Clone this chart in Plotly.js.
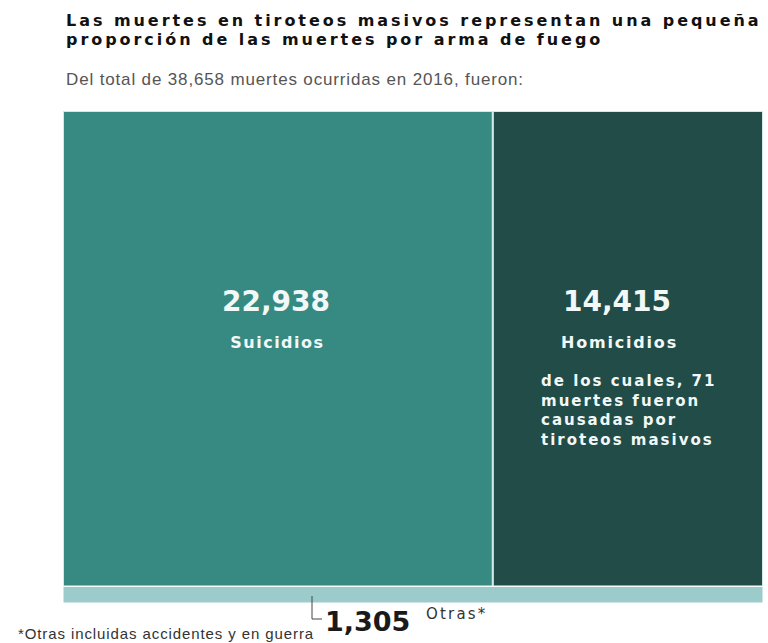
<!DOCTYPE html>
<html>
<head>
<meta charset="utf-8">
<script src="https://cdn.plot.ly/plotly-3.0.1.min.js"></script>
<style>
  html, body { margin: 0; padding: 0; background: #ffffff; }
  #chart { width: 768px; height: 643px; }
  g.annotation[data-index="0"] text, g.annotation[data-index="1"] text { letter-spacing: 2.95px; }
  g.annotation[data-index="2"] text { letter-spacing: 0.85px; }
  g.annotation[data-index="4"] text { letter-spacing: 1.5px; }
  g.annotation[data-index="6"] text { letter-spacing: 1.8px; }
  g.annotation[data-index="7"] text { letter-spacing: 2.0px; }
  g.annotation[data-index="9"] text { letter-spacing: 2.2px; }
  g.annotation[data-index="10"] text { letter-spacing: 0.9px; }
</style>
</head>
<body>
<div id="chart"></div>
<script>
// ---- data ----
const categories = ['Suicidios', 'Homicidios', 'Otras'];
const values = [22938, 14415, 1305];
const massShootings = [71];
const year = [2016];

// ---- styles ----
const colors = ['#378a81', '#214c48', '#9ccbcb'];
const edge = '#d2eae7';
const boldFont = 'DejaVu Sans, Verdana, sans-serif';
const plainFont = 'Liberation Sans, Arial, sans-serif';

const fmt = v => v.toLocaleString('en-US');
const total = values.reduce((a, b) => a + b, 0);
const topTotal = values[0] + values[1];
const otrasFrac = values[2] / total;

// px helpers for text placement (plot area: x 63..763, y 111..603)
const px = x => (x - 63) / 700;
const py = y => (603 - y) / 492;

const traces = [
  { type: 'bar', name: categories[0], x: [values[0] / 2], width: [values[0]],
    base: [otrasFrac], y: [1 - otrasFrac],
    marker: { color: colors[0], line: { color: edge, width: 2 } }, hoverinfo: 'skip' },
  { type: 'bar', name: categories[1], x: [values[0] + values[1] / 2], width: [values[1]],
    base: [otrasFrac], y: [1 - otrasFrac],
    marker: { color: colors[1], line: { color: edge, width: 2 } }, hoverinfo: 'skip' },
  { type: 'bar', name: categories[2], x: [topTotal / 2], width: [topTotal],
    base: [0], y: [otrasFrac],
    marker: { color: colors[2], line: { color: '#ffffff', width: 1 } }, hoverinfo: 'skip' }
];

const white = '#f2f8f7';
const annotations = [
  { text: 'Las muertes en tiroteos masivos representan una pequeña', xref: 'paper', yref: 'paper',
    x: px(64), y: py(20.5), xanchor: 'left', yanchor: 'middle', align: 'left', showarrow: false,
    font: { family: boldFont, size: 16, color: '#111111', weight: 'bold' } },
  { text: 'proporción de las muertes por arma de fuego', xref: 'paper', yref: 'paper',
    x: px(64), y: py(39.5), xanchor: 'left', yanchor: 'middle', align: 'left', showarrow: false,
    font: { family: boldFont, size: 16, color: '#111111', weight: 'bold' } },
  { text: 'Del total de ' + fmt(total) + ' muertes ocurridas en ' + year[0] + ', fueron:', xref: 'paper', yref: 'paper',
    x: px(64), y: py(79), xanchor: 'left', yanchor: 'middle', align: 'left', showarrow: false,
    font: { family: plainFont, size: 17, color: '#555555' } },
  { text: fmt(values[0]), xref: 'x', yref: 'paper', x: values[0] / 2, xshift: -2,
    y: py(301), xanchor: 'center', yanchor: 'middle', showarrow: false,
    font: { family: boldFont, size: 28, color: white, weight: 'bold' } },
  { text: categories[0], xref: 'x', yref: 'paper', x: values[0] / 2,
    y: py(342), xanchor: 'center', yanchor: 'middle', showarrow: false,
    font: { family: boldFont, size: 16, color: white, weight: 'bold' } },
  { text: fmt(values[1]), xref: 'x', yref: 'paper', x: values[0] + values[1] / 2, xshift: -11,
    y: py(301), xanchor: 'center', yanchor: 'middle', showarrow: false,
    font: { family: boldFont, size: 28, color: white, weight: 'bold' } },
  { text: categories[1], xref: 'x', yref: 'paper', x: values[0] + values[1] / 2, xshift: -8,
    y: py(342), xanchor: 'center', yanchor: 'middle', showarrow: false,
    font: { family: boldFont, size: 16, color: white, weight: 'bold' } },
  { text: 'de los cuales, ' + massShootings[0] + '<br>muertes fueron<br>causadas por<br>tiroteos masivos',
    xref: 'paper', yref: 'paper', x: px(539), y: py(410), xanchor: 'left', yanchor: 'middle', align: 'left',
    showarrow: false,
    font: { family: boldFont, size: 15, color: white, weight: 'bold' } },
  { text: fmt(values[2]), xref: 'paper', yref: 'paper', x: px(323), y: py(621.5), xanchor: 'left', yanchor: 'middle',
    align: 'left', showarrow: false,
    font: { family: boldFont, size: 27, color: '#1a1a1a', weight: 'bold' } },
  { text: categories[2] + '*', xref: 'paper', yref: 'paper', x: px(424), y: py(614), xanchor: 'left', yanchor: 'middle',
    align: 'left', showarrow: false,
    font: { family: 'DejaVu Sans, Verdana, sans-serif', size: 15, color: '#333333' } },
  { text: '*Otras incluidas accidentes y en guerra', xref: 'paper', yref: 'paper', x: px(16), y: py(633),
    xanchor: 'left', yanchor: 'middle', align: 'left', showarrow: false,
    font: { family: plainFont, size: 15, color: '#333333' } }
];

const shapes = [
  { type: 'path', xref: 'paper', yref: 'paper',
    path: 'M ' + px(312) + ' ' + py(596) + ' L ' + px(312) + ' ' + py(619) + ' L ' + px(322) + ' ' + py(619),
    line: { color: '#444444', width: 1 } }
];

const layout = {
  width: 768, height: 643,
  margin: { l: 63, r: 5, t: 111, b: 40 },
  paper_bgcolor: '#ffffff', plot_bgcolor: '#ffffff',
  showlegend: false, barmode: 'overlay', bargap: 0,
  xaxis: { range: [0, topTotal], visible: false, fixedrange: true },
  yaxis: { range: [0, 1], visible: false, fixedrange: true },
  annotations: annotations, shapes: shapes
};

Plotly.newPlot('chart', traces, layout, { displayModeBar: false, staticPlot: true });
</script>
</body>
</html>
